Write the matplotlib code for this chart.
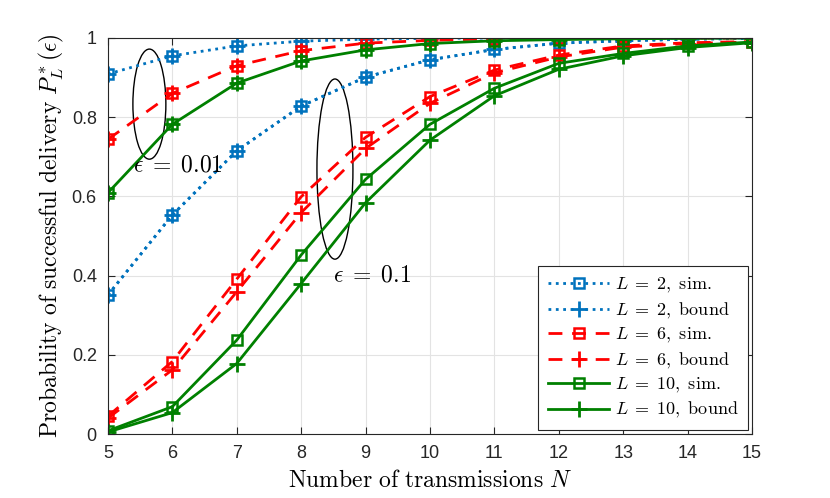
import matplotlib
matplotlib.use("Agg")
import matplotlib.pyplot as plt
from matplotlib.patches import Ellipse

plt.rcParams["mathtext.fontset"] = "cm"
plt.rcParams["font.family"] = ["Liberation Sans", "DejaVu Sans"]

# == data ==
n_tx = [5, 6, 7, 8, 9, 10, 11, 12, 13, 14, 15]

# epsilon = 0.01 (sim and bound lie on top of each other)
l2_e001 = [0.909, 0.955, 0.980, 0.992, 0.997, 0.999, 1.0, 1.0, 1.0, 1.0, 1.0]
l6_e001 = [0.744, 0.860, 0.930, 0.968, 0.987, 0.994, 0.998, 0.999, 1.0, 1.0, 1.0]
l10_e001 = [0.609, 0.782, 0.886, 0.942, 0.970, 0.986, 0.993, 0.996, 0.998, 0.999, 1.0]

# epsilon = 0.1
l2_e01_sim = [0.351, 0.553, 0.715, 0.828, 0.901, 0.945, 0.971, 0.987, 0.993, 0.997, 0.999]
l2_e01_bound = [0.351, 0.553, 0.715, 0.828, 0.901, 0.945, 0.971, 0.987, 0.993, 0.997, 0.999]
l6_e01_sim = [0.045, 0.183, 0.391, 0.599, 0.749, 0.852, 0.919, 0.957, 0.980, 0.988, 0.991]
l6_e01_bound = [0.040, 0.162, 0.359, 0.559, 0.721, 0.835, 0.912, 0.952, 0.977, 0.986, 0.990]
l10_e01_sim = [0.008, 0.069, 0.237, 0.452, 0.643, 0.782, 0.873, 0.936, 0.961, 0.980, 0.990]
l10_e01_bound = [0.005, 0.054, 0.178, 0.380, 0.584, 0.742, 0.854, 0.921, 0.955, 0.976, 0.988]

blue = "#0072BD"
red = "#FF0000"
green = "#008000"

fig = plt.figure(figsize=(8.3, 4.98), dpi=100)
ax = fig.add_axes([0.130, 0.1285, 0.776, 0.7952])

lw = 2.0
styles = [
    (l2_e001, l2_e01_sim, l2_e01_bound, blue, ":", "2"),
    (l6_e001, l6_e01_sim, l6_e01_bound, red, (0, (5, 3.5)), "6"),
    (l10_e001, l10_e01_sim, l10_e01_bound, green, "-", "10"),
]

for e001, sim, bound, col, ls, name in styles:
    ax.plot(n_tx, sim, color=col, ls=ls, lw=lw, marker="s", ms=7,
            mfc="none", mew=1.8, label=r"$L\;=\;%s,\ \mathrm{sim.}$" % name)
    ax.plot(n_tx, bound, color=col, ls=ls, lw=lw, marker="+", ms=12,
            mew=2.0, label=r"$L\;=\;%s,\ \mathrm{bound}$" % name)
    ax.plot(n_tx, e001, color=col, ls=ls, lw=lw, marker="s", ms=7,
            mfc="none", mew=1.8)
    ax.plot(n_tx, e001, color=col, ls="none", marker="+", ms=12, mew=2.0)

# == ellipses and annotations ==
ax.add_patch(Ellipse((5.644, 0.833), 0.512, 0.278, fill=False, ec="black", lw=1.0))
ax.add_patch(Ellipse((8.525, 0.669), 0.559, 0.455, fill=False, ec="black", lw=1.0))
ax.text(5.39, 0.677, r"$\epsilon\;=\;0.01$", fontsize=17, va="center", ha="left")
ax.text(8.49, 0.40, r"$\epsilon\;=\;0.1$", fontsize=17, va="center", ha="left")

ax.set_xlim(5, 15)
ax.set_ylim(0, 1)
ax.set_xticks(range(5, 16))
ax.set_yticks([0, 0.2, 0.4, 0.6, 0.8, 1])
ax.set_yticklabels(["0", "0.2", "0.4", "0.6", "0.8", "1"])
ax.tick_params(direction="in", length=5, width=0.8, labelsize=13, pad=8,
               colors="#262626", top=True, right=True)
for sp in ax.spines.values():
    sp.set_color("#262626")
    sp.set_linewidth(0.8)
ax.grid(True, color="#e3e3e3", lw=0.8)
ax.set_axisbelow(True)

ax.set_xlabel(r"$\mathrm{Number\ of\ transmissions}\ N$", fontsize=17, labelpad=6)
ax.set_ylabel(r"$\mathrm{Probability\ of\ successful\ delivery}\ P_L^*(\epsilon)$",
              fontsize=17, labelpad=4)

leg = ax.legend(loc="lower right", fontsize=13, handlelength=3.4,
                borderaxespad=0.2, labelspacing=0.3, handletextpad=0.3,
                borderpad=0.55, fancybox=False, framealpha=1,
                edgecolor="#262626")
leg.get_frame().set_linewidth(0.8)

fig.savefig("out.png", dpi=100)
